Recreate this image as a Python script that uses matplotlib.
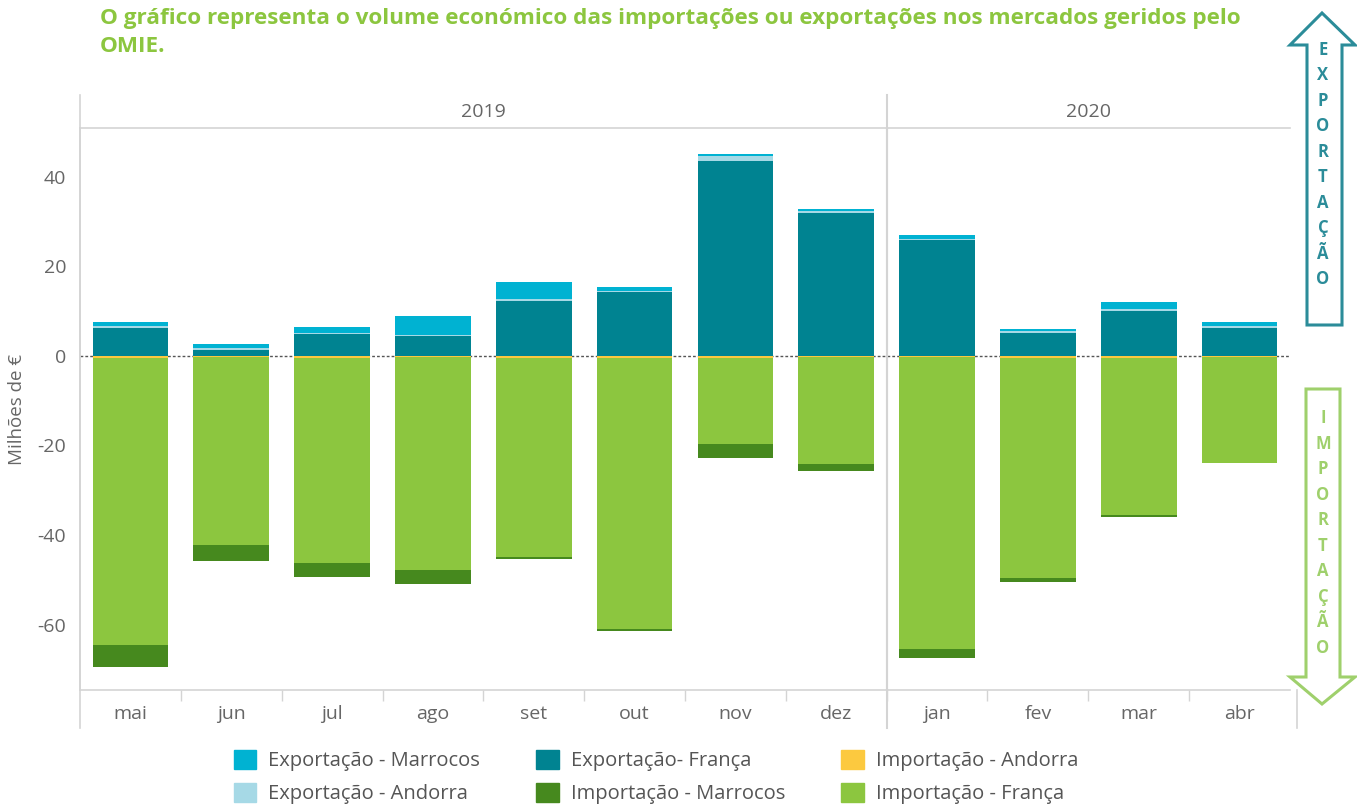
import matplotlib.pyplot as plt
import numpy as np
from matplotlib.lines import Line2D
from matplotlib.patches import Polygon, Patch

plt.rcParams['font.family'] = ['Open Sans', 'DejaVu Sans']
plt.rcParams['axes.unicode_minus'] = False

meses = ['mai', 'jun', 'jul', 'ago', 'set', 'out', 'nov', 'dez', 'jan', 'fev', 'mar', 'abr']
anos = ['2019', '2020']

# exportações (milhões de €)
exp_franca = [6.3, 1.3, 4.9, 4.5, 12.3, 14.3, 43.6, 32.0, 25.9, 5.1, 10.1, 6.3]
exp_andorra = [0.45, 0.45, 0.2, 0.2, 0.45, 0.22, 1.1, 0.45, 0.22, 0.45, 0.45, 0.45]
exp_marrocos = [0.9, 0.9, 1.35, 4.25, 3.8, 0.9, 0.45, 0.45, 0.9, 0.45, 1.55, 0.9]

# importações (milhões de €, negativos)
imp_andorra = [-0.45, -0.15, -0.45, -0.15, -0.45, -0.45, -0.45, -0.15, -0.15, -0.45, -0.45, -0.15]
imp_franca = [-64.2, -42.1, -45.9, -47.7, -44.5, -60.6, -19.3, -24.0, -65.2, -49.2, -35.1, -23.8]
imp_marrocos = [-4.9, -3.6, -3.1, -3.1, -0.45, -0.45, -3.1, -1.6, -2.0, -0.9, -0.4, 0.0]

c_exp_mar = '#00b2d2'
c_exp_and = '#a6d9e6'
c_exp_fra = '#008391'
c_imp_and = '#fcc93f'
c_imp_mar = '#46891e'
c_imp_fra = '#8cc63f'
cinza = '#666666'
linha = '#d4d4d4'

W, H = 1357, 805
fig = plt.figure(figsize=(W / 100, H / 100), dpi=100)


def fx(px):
    return px / W


def fy(py):
    return 1 - py / H


ax = fig.add_axes([fx(80), fy(690), fx(1290 - 80), (690 - 128) / H])
x = np.arange(len(meses))
w = 0.75

exp_franca = np.array(exp_franca)
exp_andorra = np.array(exp_andorra)
exp_marrocos = np.array(exp_marrocos)
imp_andorra = np.array(imp_andorra)
imp_franca = np.array(imp_franca)
imp_marrocos = np.array(imp_marrocos)

ax.bar(x, exp_franca, w, color=c_exp_fra, zorder=2)
ax.bar(x, exp_andorra, w, bottom=exp_franca, color=c_exp_and, zorder=2)
ax.bar(x, exp_marrocos, w, bottom=exp_franca + exp_andorra, color=c_exp_mar, zorder=2)
ax.bar(x, imp_andorra, w, color=c_imp_and, zorder=2)
ax.bar(x, imp_franca, w, bottom=imp_andorra, color=c_imp_fra, zorder=2)
ax.bar(x, imp_marrocos, w, bottom=imp_andorra + imp_franca, color=c_imp_mar, zorder=2)

ax.axhline(0, color='#555555', lw=1, ls=(0, (2, 1.5)), zorder=1)
ax.axvline(7.5, color=linha, lw=1.5)

ax.set_xlim(-0.5, 11.5)
ax.set_ylim(-74.6, 50.9)
ax.set_yticks([40, 20, 0, -20, -40, -60])
ax.set_xticks(x)
ax.set_xticklabels(meses)
ax.set_xticks(np.arange(0.5, 11, 1), minor=True)
ax.tick_params(axis='both', which='major', length=0, labelsize=14, colors=cinza)
ax.tick_params(axis='x', which='major', pad=11)
ax.tick_params(axis='x', which='minor', length=8, color=linha, width=1)
ax.tick_params(axis='y', pad=10)
for s in ['top', 'right']:
    ax.spines[s].set_visible(False)
for s in ['left', 'bottom']:
    ax.spines[s].set_color(linha)
    ax.spines[s].set_linewidth(1.2)
ax.set_ylabel('Milhões de €', fontsize=13.5, color=cinza, labelpad=8)

# cabeçalho com os anos
fig.add_artist(Line2D([fx(80), fx(1290)], [fy(128), fy(128)], color=linha, lw=1.2))
fig.add_artist(Line2D([fx(80), fx(80)], [fy(95), fy(728)], color=linha, lw=1.2))
xsep = 80 + 8 / 12 * 1210
fig.add_artist(Line2D([fx(xsep), fx(xsep)], [fy(95), fy(728)], color=linha, lw=1.5))
fig.add_artist(Line2D([fx(1297), fx(1297)], [fy(690), fy(728)], color=linha, lw=1.2))
fig.text(fx((80 + xsep) / 2), fy(112), anos[0], ha='center', va='center', fontsize=14, color=cinza)
fig.text(fx((xsep + 1290) / 2), fy(112), anos[1], ha='center', va='center', fontsize=14, color=cinza)

# título
fig.text(fx(100), fy(8), 'O gráfico representa o volume económico das importações ou exportações nos mercados geridos pelo\nOMIE.',
         ha='left', va='top', fontsize=16.2, fontweight='bold', color=c_imp_fra, linespacing=1.45)


# setas laterais
def seta(pontos, cor, palavra, y0, y1):
    pts = [(fx(px), fy(py)) for px, py in pontos]
    fig.add_artist(Polygon(pts, closed=True, facecolor='white', edgecolor=cor, lw=2.2,
                           transform=fig.transFigure))
    ys = np.linspace(y0, y1, len(palavra))
    for letra, yy in zip(palavra, ys):
        fig.text(fx(1323), fy(yy), letra, ha='center', va='center', fontsize=12,
                 fontweight='bold', color=cor)


seta([(1322, 13), (1290, 45), (1307, 45), (1307, 325), (1342, 325), (1342, 45), (1355, 45)],
     '#2b8c99', 'EXPORTAÇÃO', 50, 279)
seta([(1306, 389), (1340, 389), (1340, 677), (1355, 677), (1322, 704), (1290, 677), (1306, 677)],
     '#9fd06c', 'IMPORTAÇÃO', 418, 648)

# legenda
handles = [Patch(color=c_exp_mar, label='Exportação - Marrocos'),
           Patch(color=c_exp_and, label='Exportação - Andorra'),
           Patch(color=c_exp_fra, label='Exportação- França'),
           Patch(color=c_imp_mar, label='Importação - Marrocos'),
           Patch(color=c_imp_and, label='Importação - Andorra'),
           Patch(color=c_imp_fra, label='Importação - França')]
leg = fig.legend(handles=handles, ncol=3, loc='center', bbox_to_anchor=(fx(656), fy(777)),
                 frameon=False, fontsize=14.5, handlelength=1.1, handleheight=1.1,
                 columnspacing=2.8, labelspacing=0.55, handletextpad=0.6)
for t in leg.get_texts():
    t.set_color('#555555')

fig.savefig('out.png', dpi=100)
